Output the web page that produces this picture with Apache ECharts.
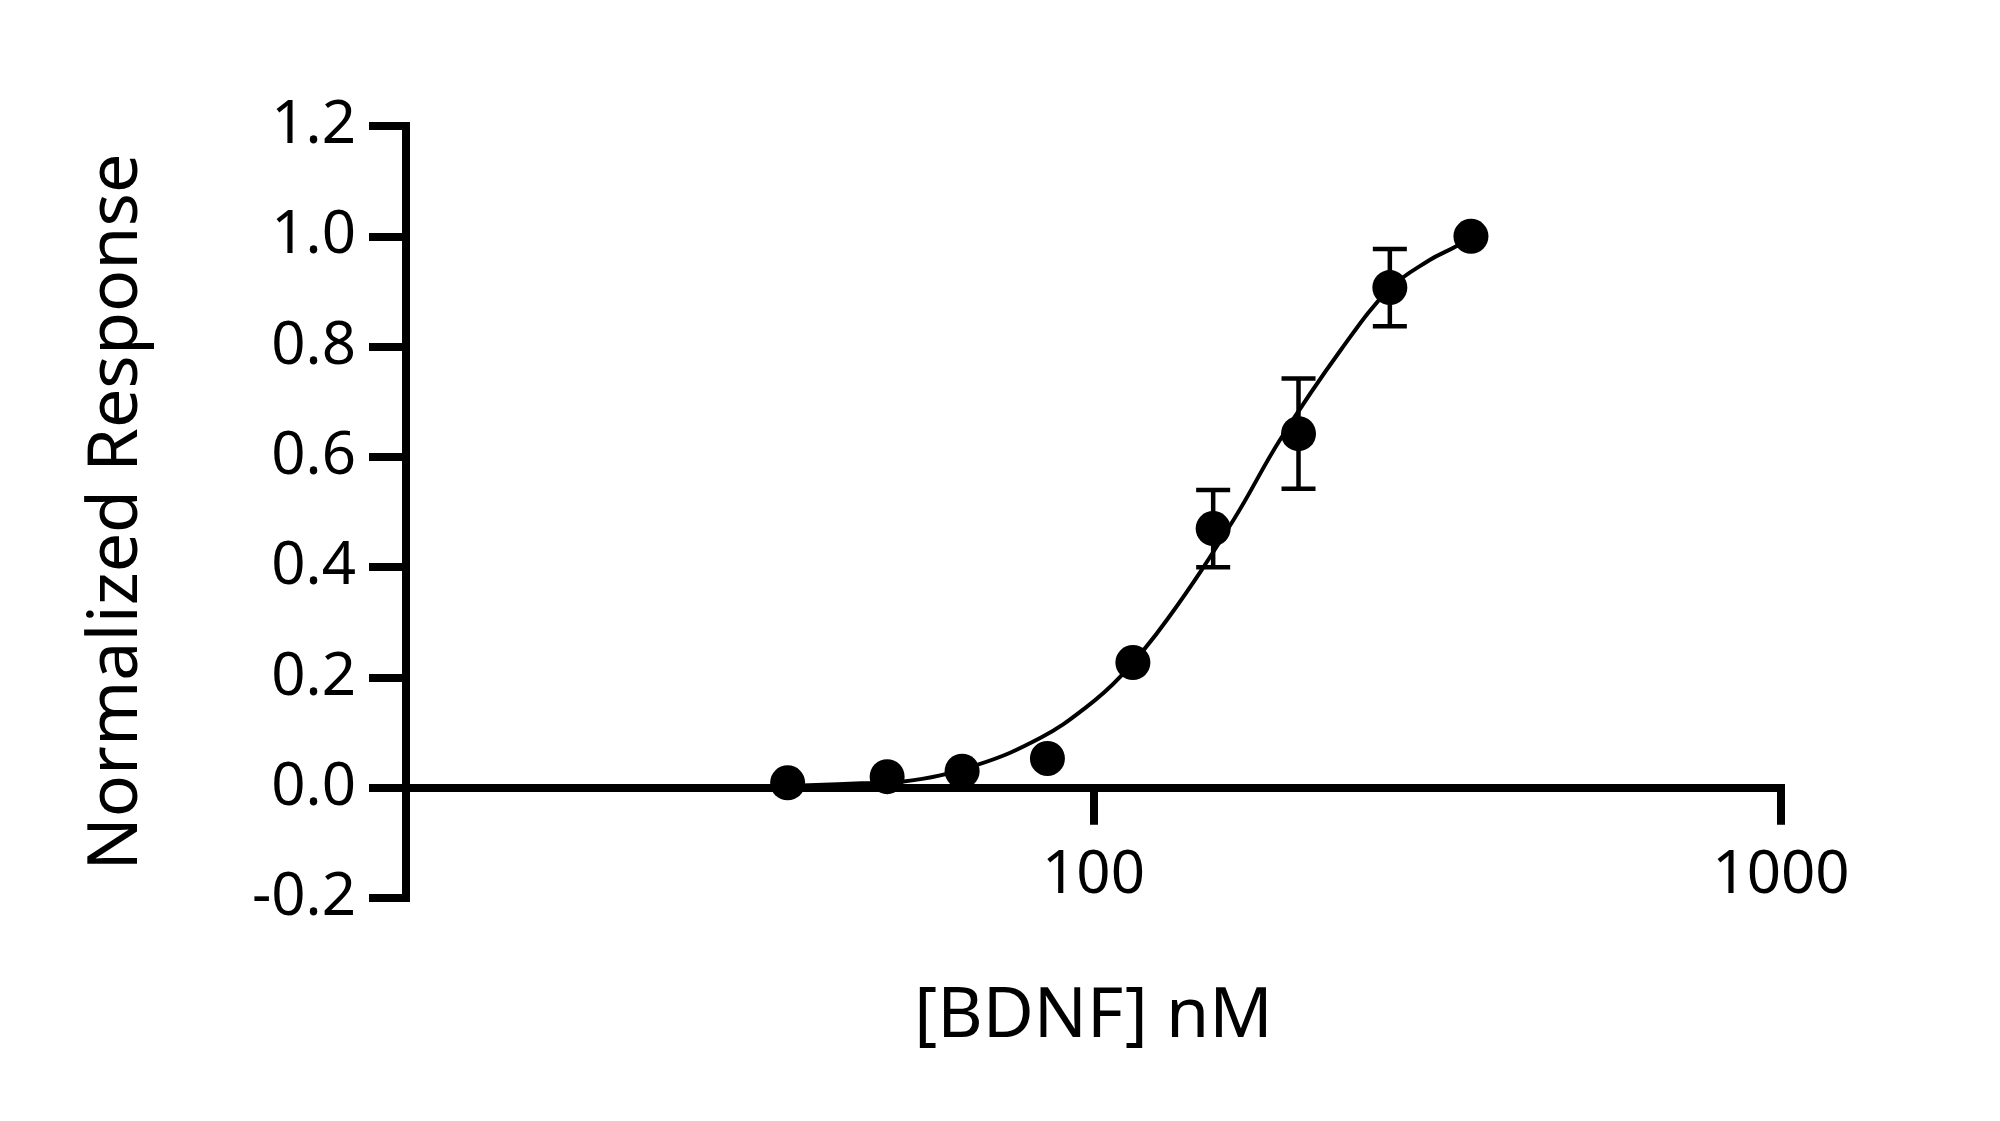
<!DOCTYPE html>
<html>
<head>
<meta charset="utf-8">
<script src="https://cdn.jsdelivr.net/npm/echarts@6/dist/echarts.min.js"></script>
<style>
html,body{margin:0;padding:0;background:#fff;}
#c{width:2000px;height:1121px;}
</style>
</head>
<body>
<div id="c"></div>
<script>
// Measured points
var concentrations = [35.9, 50.1, 64.4, 85.7, 114.1, 149.3, 198.7, 269.8, 354];
var responses = [0.009, 0.020, 0.030, 0.053, 0.227, 0.470, 0.642, 0.907, 1.000];
var errors = [0, 0, 0, 0, 0, 0.07, 0.10, 0.07, 0];
// Fitted curve
var fitX = [35.9, 46.0, 52.6, 67.9, 83.9, 96.9, 109.5, 128.0, 159.9, 186.8, 229.6, 269.8, 308.3, 337.0, 354];
var fitY = [0.003, 0.008, 0.011, 0.042, 0.091, 0.143, 0.202, 0.305, 0.486, 0.631, 0.796, 0.905, 0.957, 0.982, 1.0];
var yTicks = [-0.2, 0.0, 0.2, 0.4, 0.6, 0.8, 1.0, 1.2];
var xTickLabels = ['100', '1000'];

var FONT = 'Noto Sans';
var pts = concentrations.map(function (c, i) { return [c, responses[i]]; });
var fit = fitX.map(function (c, i) { return [c, fitY[i]]; });
var errData = concentrations.map(function (c, i) { return [c, responses[i] - errors[i], responses[i] + errors[i]]; })
  .filter(function (d, i) { return errors[i] > 0; });

var chart = echarts.init(document.getElementById('c'), null, {renderer: 'canvas'});
chart.setOption({
  backgroundColor: '#ffffff',
  animation: false,
  grid: {left: 406, right: 219, top: 126, bottom: 223, containLabel: false, outerBoundsMode: 'none'},
  xAxis: {
    type: 'log', logBase: 10, min: 10, max: 1000,
    name: '[BDNF] nM', nameLocation: 'middle', nameGap: 84,
    nameTextStyle: {fontFamily: FONT, fontSize: 70, color: '#000'},
    axisLine: {onZero: true, lineStyle: {color: '#000', width: 8, cap: 'square'}},
    axisTick: {show: true, inside: false, length: 37, lineStyle: {color: '#000', width: 8}},
    minorTick: {show: false},
    axisLabel: {
      margin: -52, fontFamily: FONT, fontSize: 60, color: '#000',
      formatter: function (v) { var s = String(Math.round(v)); return xTickLabels.indexOf(s) >= 0 ? s : ''; }
    },
    splitLine: {show: false}
  },
  yAxis: {
    type: 'value', min: -0.2, max: 1.2, interval: 0.2,
    name: 'Normalized Response', nameLocation: 'middle', nameGap: 254,
    nameTextStyle: {fontFamily: FONT, fontSize: 70, color: '#000'},
    axisLine: {show: true, onZero: false, lineStyle: {color: '#000', width: 8, cap: 'square'}},
    axisTick: {show: true, inside: false, length: 37, lineStyle: {color: '#000', width: 8}},
    axisLabel: {
      margin: 50, fontFamily: FONT, fontSize: 60, color: '#000',
      formatter: function (v) {
        var best = yTicks.reduce(function (a, b) { return Math.abs(b - v) < Math.abs(a - v) ? b : a; });
        return best.toFixed(1);
      }
    },
    splitLine: {show: false}
  },
  series: [
    {
      type: 'line', data: fit, smooth: 0.4, showSymbol: false, symbol: 'none',
      lineStyle: {color: '#000', width: 4}, z: 2
    },
    {
      type: 'custom', data: errData, z: 3,
      renderItem: function (params, api) {
        var x = api.value(0);
        var lo = api.coord([x, api.value(1)]);
        var hi = api.coord([x, api.value(2)]);
        var hw = 17;
        var st = {stroke: '#000', lineWidth: 4.5};
        return {type: 'group', children: [
          {type: 'line', shape: {x1: lo[0], y1: lo[1], x2: hi[0], y2: hi[1]}, style: st},
          {type: 'line', shape: {x1: lo[0] - hw, y1: lo[1], x2: lo[0] + hw, y2: lo[1]}, style: st},
          {type: 'line', shape: {x1: hi[0] - hw, y1: hi[1], x2: hi[0] + hw, y2: hi[1]}, style: st}
        ]};
      }
    },
    {
      type: 'scatter', data: pts, symbol: 'circle', symbolSize: 35,
      itemStyle: {color: '#000', opacity: 1}, z: 4
    }
  ]
});
</script>
</body>
</html>
